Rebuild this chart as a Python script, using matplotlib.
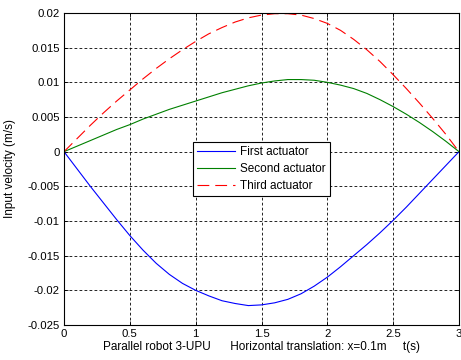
import matplotlib
matplotlib.use("Agg")
import matplotlib.pyplot as plt
from matplotlib.ticker import FixedLocator, FixedFormatter

plt.rcParams['font.family'] = ['Liberation Sans', 'DejaVu Sans']
plt.rcParams['lines.scale_dashes'] = False

t = [0.0, 0.1, 0.2, 0.3, 0.4, 0.5, 0.6, 0.7, 0.8, 0.9, 1.0,
     1.1, 1.2, 1.3, 1.4, 1.5, 1.6, 1.7, 1.8, 1.9, 2.0,
     2.1, 2.2, 2.3, 2.4, 2.5, 2.6, 2.7, 2.8, 2.9, 3.0]

first = [0.0, -0.0025, -0.0050, -0.0074, -0.0098, -0.0121, -0.0142, -0.0161, -0.0177, -0.0190, -0.0200,
         -0.0208, -0.0215, -0.0219, -0.0222, -0.0221, -0.0218, -0.0213, -0.0205, -0.0194, -0.0181,
         -0.0166, -0.0150, -0.0134, -0.0117, -0.0099, -0.0080, -0.0060, -0.0040, -0.0020, 0.0]

second = [0.0, 0.0008, 0.0016, 0.0024, 0.0032, 0.0039, 0.0047, 0.0054, 0.0061, 0.0067, 0.0073,
          0.0079, 0.0085, 0.0090, 0.0095, 0.0099, 0.0102, 0.0104, 0.0104, 0.0103, 0.0100,
          0.0096, 0.0091, 0.0084, 0.0075, 0.0065, 0.0054, 0.0042, 0.0029, 0.0015, 0.0]

third = [0.0, 0.0019, 0.0038, 0.0056, 0.0073, 0.0089, 0.0105, 0.0120, 0.0134, 0.0147, 0.0159,
         0.0170, 0.0179, 0.0187, 0.0193, 0.0197, 0.0199, 0.0199, 0.0197, 0.0192, 0.0185,
         0.0175, 0.0162, 0.0147, 0.0130, 0.0111, 0.0091, 0.0070, 0.0048, 0.0025, 0.0]

series_labels = ["First actuator", "Second actuator", "Third actuator"]
xticks = [0, 0.5, 1, 1.5, 2, 2.5, 3]
xticklabels = ["0", "0.5", "1", "1.5", "2", "2.5", "3"]
yticks = [-0.025, -0.02, -0.015, -0.01, -0.005, 0, 0.005, 0.01, 0.015, 0.02]
yticklabels = ["-0.025", "-0.02", "-0.015", "-0.01", "-0.005", "0", "0.005", "0.01", "0.015", "0.02"]
xlabel = "Parallel robot 3-UPU      Horizontal translation: x=0.1m     t(s)"
ylabel = "Input velocity (m/s)"

fig = plt.figure(figsize=(4.61, 3.60), dpi=100)
fig.patch.set_facecolor('white')
ax = fig.add_axes([64/461, 35/360, 395/461, 312/360])

ax.plot(t, first, color=(0, 0, 1), lw=0.8, label=series_labels[0])
ax.plot(t, second, color=(0, 0.5, 0), lw=0.8, label=series_labels[1])
ax.plot(t, third, color=(1, 0, 0), lw=0.8, dashes=(8.5, 4.3), label=series_labels[2])

ax.set_xlim(0, 3)
ax.set_ylim(-0.025, 0.02)
ax.xaxis.set_major_locator(FixedLocator(xticks))
ax.xaxis.set_major_formatter(FixedFormatter(xticklabels))
ax.yaxis.set_major_locator(FixedLocator(yticks))
ax.yaxis.set_major_formatter(FixedFormatter(yticklabels))
ax.tick_params(direction='in', length=3, width=0.6, top=True, right=True,
               labelsize=8.2, pad=3, colors='black')
ax.grid(True, color='black', lw=0.6, dashes=(2.0, 1.6))
for s in ax.spines.values():
    s.set_linewidth(0.8)
    s.set_color('black')

ax.set_xlabel(xlabel, fontsize=8.5, labelpad=1)
ax.set_ylabel(ylabel, fontsize=8.5, labelpad=8)

leg = ax.legend(loc='center', fontsize=8.5, frameon=True, fancybox=False,
                edgecolor='black', framealpha=1, handlelength=3.2,
                handletextpad=0.4, labelspacing=0.4, borderpad=0.35,
                borderaxespad=0)
leg.get_frame().set_linewidth(0.8)

fig.savefig("out.png", dpi=100, facecolor='white')
